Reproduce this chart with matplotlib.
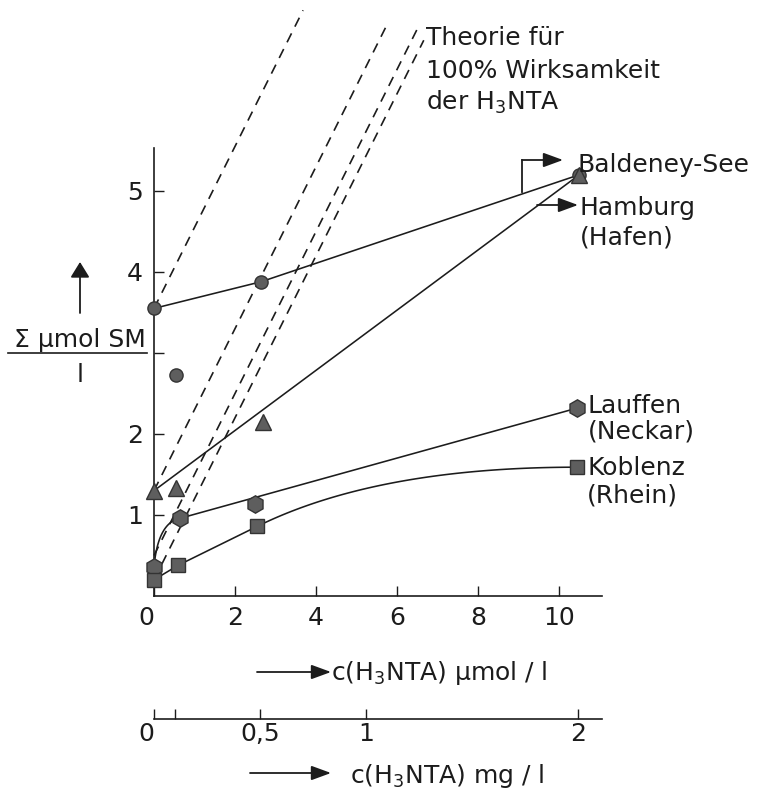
import numpy as np
import matplotlib
matplotlib.use("Agg")
import matplotlib.pyplot as plt
from matplotlib.transforms import Affine2D

# ---- data (c in µmol/l, sum of heavy metals in µmol/l) ----
baldeney_x = [0.0, 2.65, 10.5]
baldeney_y = [3.55, 3.88, 5.2]
baldeney_extra_x = [0.54]
baldeney_extra_y = [2.73]

hamburg_x = [0.0, 0.55, 2.7, 10.5]
hamburg_y = [1.3, 1.33, 2.15, 5.2]

lauffen_x = [0.0, 0.65, 2.5, 10.45]
lauffen_y = [0.36, 0.96, 1.13, 2.32]

koblenz_x = [0.0, 0.6, 2.55, 10.45]
koblenz_y = [0.2, 0.38, 0.86, 1.59]

# theory for 100 % effectiveness: one µmol NTA binds one µmol metal
theory_intercepts = [3.55, 1.3, 0.5, 0.2]
theory_end_y = [7.23, 7.05, 7.05, 6.86]
theory_slope = 1.0

x_ticks = [0, 2, 4, 6, 8, 10]
x_ticklabels = ["0", "2", "4", "6", "8", "10"]
y_ticks = [1, 2, 3, 4, 5]
y_ticklabels = ["1", "2", "", "4", "5"]

mg_ticks = [0, 0.1, 0.5, 1, 2]
mg_ticklabels = ["0", "", "0,5", "1", "2"]
MW_H3NTA = 191.14  # g/mol -> 1 mg/l = 1000/191.14 µmol/l

W, H = 761, 791
plt.rcParams["font.family"] = ["DejaVu Sans"]
plt.rcParams["font.size"] = 18
plt.rcParams["mathtext.default"] = "regular"

INK = "#1c1c1c"
FILL = "#5e5e5e"

fig = plt.figure(figsize=(W / 100, H / 100), dpi=100)
px = Affine2D().scale(1 / W, -1 / H).translate(0, 1) + fig.transFigure

XMAX, YMAX = 11.06, 5.53
ax = fig.add_axes([154 / W, 1 - 596 / H, 448 / W, 448 / H])
ax.set_xlim(0, XMAX)
ax.set_ylim(0, YMAX)
for s in ("top", "right"):
    ax.spines[s].set_visible(False)
for s in ("left", "bottom"):
    ax.spines[s].set_linewidth(1.2)
    ax.spines[s].set_color(INK)
ax.set_xticks(x_ticks)
ax.set_xticklabels(x_ticklabels)
ax.set_yticks(y_ticks)
ax.set_yticklabels(y_ticklabels)
ax.tick_params(direction="in", length=7, width=1.0, color=INK, labelcolor=INK)
ax.tick_params(axis="x", pad=7)
ax.tick_params(axis="y", pad=8)
ax.get_xticklabels()[0].set_ha("right")


def quad_bezier(p0, c, p1, n=60):
    t = np.linspace(0, 1, n)[:, None]
    pts = (1 - t) ** 2 * np.array(p0) + 2 * t * (1 - t) * np.array(c) + t ** 2 * np.array(p1)
    return pts[:, 0], pts[:, 1]


line_kw = dict(color=INK, lw=1.15, solid_capstyle="round", zorder=3, clip_on=False)

# theory lines (dashed)
for b, ye in zip(theory_intercepts, theory_end_y):
    xs = np.array([0.0, (ye - b) / theory_slope])
    ax.plot(xs, b + theory_slope * xs, color=INK, lw=1.2,
            linestyle=(0, (6, 4.5)), zorder=2, clip_on=False)

# Baldeney-See: polyline through the points
ax.plot(baldeney_x, baldeney_y, **line_kw)

# Hamburg: straight line from first to last point
ax.plot([hamburg_x[0], hamburg_x[-1]], [hamburg_y[0], hamburg_y[-1]], **line_kw)

# Lauffen: steep bend from the start, then straight to the end point
cx, cy = quad_bezier((lauffen_x[0], lauffen_y[0]),
                     (lauffen_x[0] + 0.1, lauffen_y[1] - 0.05),
                     (lauffen_x[1], lauffen_y[1]))
ax.plot(cx, cy, **line_kw)
ax.plot([lauffen_x[1], lauffen_x[3]], [lauffen_y[1], lauffen_y[3]], **line_kw)

# Koblenz: straight through the first three points, flattening to the last
ax.plot(koblenz_x[:3], koblenz_y[:3], **line_kw)
slope = (koblenz_y[2] - koblenz_y[1]) / (koblenz_x[2] - koblenz_x[1])
ctrl = (koblenz_x[2] + (koblenz_y[3] - koblenz_y[2]) / slope, koblenz_y[3])
cx, cy = quad_bezier((koblenz_x[2], koblenz_y[2]), ctrl, (koblenz_x[3], koblenz_y[3]))
ax.plot(cx, cy, **line_kw)

mk = dict(linestyle="none", markerfacecolor=FILL, markeredgecolor="#333333",
          markeredgewidth=1.0, zorder=5, clip_on=False)
ax.plot(baldeney_x, baldeney_y, marker="o", markersize=9.5, **mk)
ax.plot(baldeney_extra_x, baldeney_extra_y, marker="o", markersize=9.5, **mk)
ax.plot(hamburg_x, hamburg_y, marker="^", markersize=12, **mk)
ax.plot(lauffen_x, lauffen_y, marker="h", markersize=12.5, **mk)
ax.plot(koblenz_x, koblenz_y, marker="s", markersize=10.5, **mk)

# ---- series labels ----
txt = dict(transform=px, color=INK, fontsize=18, ha="left", va="baseline")
fig.text(426, 45, "Theorie für", **txt)
fig.text(426, 78, "100% Wirksamkeit", **txt)
fig.text(426, 110, "der H$_3$NTA", **txt)

fig.text(578, 172, "Baldeney-See", **txt)
fig.text(579, 215, "Hamburg", **txt)
fig.text(580, 245, "(Hafen)", **txt)
fig.text(588, 413, "Lauffen", **txt)
fig.text(588, 438, "(Neckar)", **txt)
fig.text(588, 475, "Koblenz", **txt)
fig.text(587, 502, "(Rhein)", **txt)


def arrow(x0, y0, x1, y1, hl=0.6, hw=0.22, lw=1.3):
    fig.add_artist(matplotlib.patches.FancyArrowPatch(
        (x0, y0), (x1, y1), transform=px,
        arrowstyle=f"-|>,head_length={hl},head_width={hw}",
        mutation_scale=20, lw=lw, color=INK, shrinkA=0, shrinkB=0))


fig.add_artist(matplotlib.lines.Line2D([522, 522], [192, 160], transform=px,
                                       color=INK, lw=1.3))
arrow(522, 160, 563, 160)
arrow(537, 205, 578, 205)

# ---- y label as a fraction with an arrow ----
arrow(80, 313, 80, 262, hl=0.47, hw=0.29)
fig.text(80, 347, "Σ µmol SM", transform=px, color=INK, fontsize=18,
         ha="center", va="baseline")
fig.add_artist(matplotlib.lines.Line2D([8, 147], [353, 353], transform=px,
                                       color=INK, lw=1.2))
fig.text(80, 382, "l", transform=px, color=INK, fontsize=18,
         ha="center", va="baseline")

# ---- x label (µmol/l) ----
arrow(257, 672, 331, 672)
fig.text(331, 680, "c(H$_3$NTA) µmol / l", **txt)

# ---- second scale in mg/l ----
ax2 = fig.add_axes([154 / W, 1 - 719 / H, 448 / W, 0.001])
ax2.set_xlim(0, XMAX * MW_H3NTA / 1000)
ax2.set_ylim(0, 1)
for s in ("top", "right", "left"):
    ax2.spines[s].set_visible(False)
ax2.spines["bottom"].set_linewidth(1.2)
ax2.spines["bottom"].set_color(INK)
ax2.patch.set_visible(False)
ax2.set_yticks([])
ax2.set_xticks(mg_ticks)
ax2.set_xticklabels(mg_ticklabels)
ax2.tick_params(axis="x", direction="in", length=7, width=1.0, color=INK,
                labelcolor=INK, pad=2)
ax2.get_xticklabels()[0].set_ha("right")

arrow(250, 773, 331, 773)
fig.text(350, 783, "c(H$_3$NTA) mg / l", **txt)

fig.savefig("out.png", dpi=100, facecolor="white")
